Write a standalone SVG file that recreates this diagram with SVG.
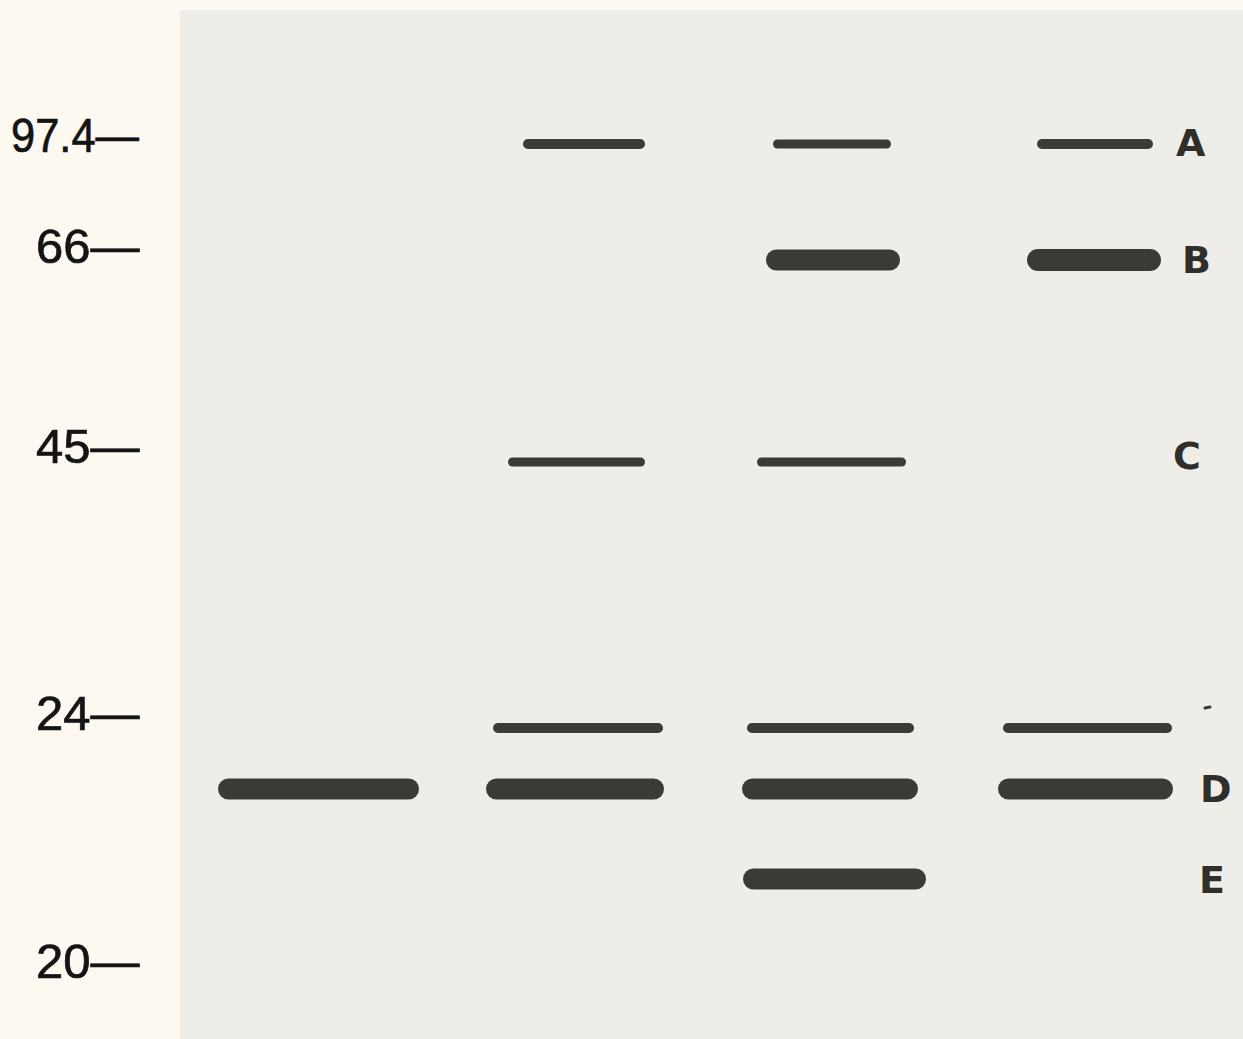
<svg xmlns="http://www.w3.org/2000/svg" width="1243" height="1039" viewBox="0 0 1243 1039">
<style>
.band{stroke:#3a3b34;stroke-linecap:round;fill:none}
.mw{font-family:"Liberation Sans",Arial,sans-serif;font-size:49px;fill:#141414;stroke:#141414;stroke-width:0.7}
.lt{font-family:"DejaVu Sans",sans-serif;font-weight:bold;font-size:38px;fill:#2e2f2a}
</style>
<rect x="0" y="0" width="1243" height="1039" fill="#fdf9f0"/>
<rect id="gel" x="180" y="10" width="1063" height="1029" fill="#efede8"/>
<g id="markers">
<text class="mw" x="11" y="152" textLength="128" lengthAdjust="spacingAndGlyphs">97.4—</text>
<text class="mw" x="36" y="263">66—</text>
<text class="mw" x="36" y="463">45—</text>
<text class="mw" x="36" y="730">24—</text>
<text class="mw" x="36" y="978">20—</text>
</g>
<g id="lane1">
<line class="band" x1="228.5" y1="789" x2="408.5" y2="789" stroke-width="21"/>
</g>
<g id="lane2">
<line class="band" x1="528" y1="144" x2="640" y2="144" stroke-width="10"/>
<line class="band" x1="512.5" y1="462" x2="640.5" y2="462" stroke-width="9"/>
<line class="band" x1="498" y1="728" x2="658" y2="728" stroke-width="10"/>
<line class="band" x1="496.5" y1="789" x2="653.5" y2="789" stroke-width="21"/>
</g>
<g id="lane3">
<line class="band" x1="777.5" y1="144" x2="886.5" y2="144" stroke-width="9"/>
<line class="band" x1="776.5" y1="260" x2="889.5" y2="260" stroke-width="21"/>
<line class="band" x1="761.5" y1="462" x2="901.5" y2="462" stroke-width="9"/>
<line class="band" x1="752" y1="728" x2="909" y2="728" stroke-width="10"/>
<line class="band" x1="752.5" y1="789" x2="907.5" y2="789" stroke-width="21"/>
<line class="band" x1="753.5" y1="879" x2="915.5" y2="879" stroke-width="21"/>
</g>
<g id="lane4">
<line class="band" x1="1042" y1="144" x2="1148" y2="144" stroke-width="10"/>
<line class="band" x1="1038" y1="260" x2="1150" y2="260" stroke-width="22"/>
<line class="band" x1="1008" y1="728" x2="1167" y2="728" stroke-width="10"/>
<line class="band" x1="1008.5" y1="789" x2="1162.5" y2="789" stroke-width="21"/>
</g>
<g id="labels">
<text class="lt" x="1176" y="156">A</text>
<text class="lt" x="1182" y="273">B</text>
<text class="lt" x="1173" y="469">C</text>
<text class="lt" x="1200" y="802">D</text>
<text class="lt" x="1199" y="893">E</text>
<line x1="1205" y1="708" x2="1210" y2="707" stroke="#3a3b34" stroke-width="3" stroke-linecap="round"/>
</g>
</svg>
